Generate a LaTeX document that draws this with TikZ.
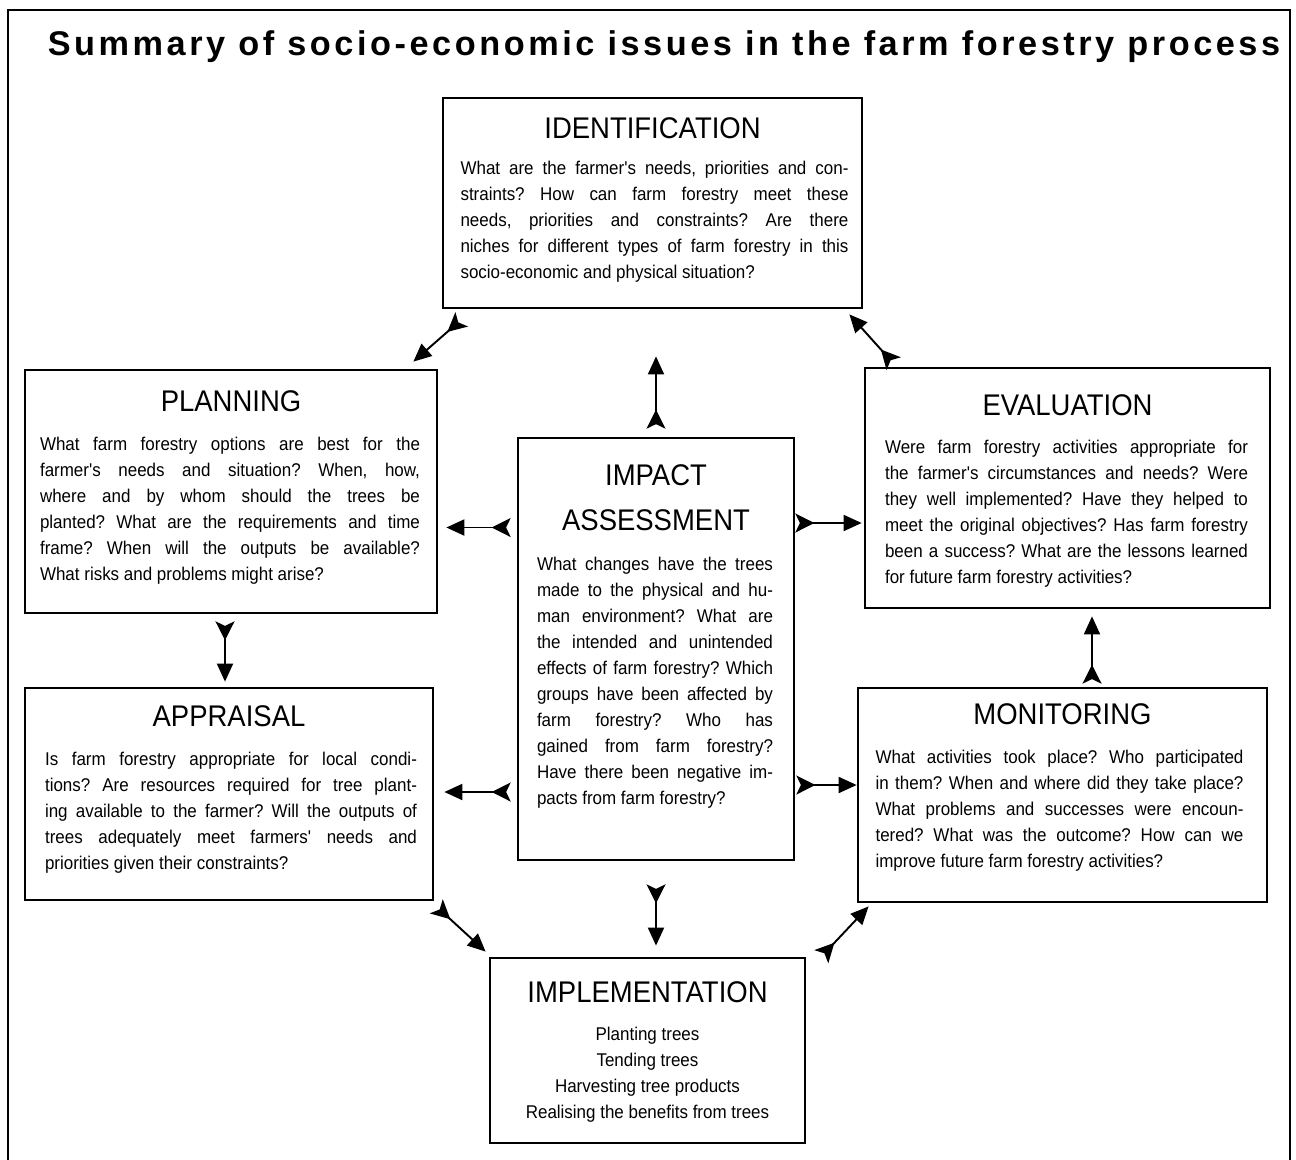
\documentclass[tikz,border=0pt]{standalone}
\usepackage{fontspec}
\setmainfont{Liberation Sans}
\newfontfamily\bodyfont[FakeStretch=0.92]{Liberation Sans}
\newfontfamily\headfont[FakeStretch=0.92]{Liberation Sans}
\newfontfamily\titlefont[LetterSpace=10.4]{Liberation Sans}
\usetikzlibrary{arrows.meta,calc}
\frenchspacing
\tikzset{
  stagebox/.style={rectangle,draw=black,line width=1.6pt,inner sep=0pt},
  stagehd/.style={font=\headfont\fontsize{17}{20}\selectfont,inner sep=0pt,align=center},
  stagetxt/.style={font=\bodyfont\fontsize{10.5}{14.8}\selectfont,align=justify,
    inner sep=0pt,anchor=north},
  titletxt/.style={font=\titlefont\bfseries\fontsize{19.5}{22}\selectfont,inner sep=0pt},
  flow/.style={{Stealth[reversed,length=0.38cm,width=0.38cm,inset=0.09cm]}-{Triangle[length=0.36cm,width=0.32cm]},
    line width=1.1pt},
}
\begin{document}
\begin{tikzpicture}[x=0.02cm,y=-0.02cm]
  \useasboundingbox (0,0) rectangle (1296,1160);
  \draw[line width=0.9pt] (8,1160) |- (1290,10) -- (1290,1160);
  \node[titletxt] (title) at (664,47) {Summary of socio-economic issues in the farm forestry process};

  % stage boxes
  \node[stagebox,minimum width=8.38cm,minimum height=4.2cm]  (ident)   at (652.5,203)  {};
  \node[stagebox,minimum width=8.24cm,minimum height=4.86cm] (plan)    at (231,491.5)  {};
  \node[stagebox,minimum width=8.1cm,minimum height=4.8cm]   (eval)    at (1067.5,488) {};
  \node[stagebox,minimum width=5.52cm,minimum height=8.44cm] (impact)  at (656,649)    {};
  \node[stagebox,minimum width=8.16cm,minimum height=4.24cm] (apprais) at (229,794)    {};
  \node[stagebox,minimum width=8.18cm,minimum height=4.28cm] (monit)   at (1062.5,795) {};
  \node[stagebox,minimum width=6.3cm,minimum height=3.7cm]   (impl)    at (647.5,1050.5) {};

  % headings
  \node[stagehd] (identH)   at ($(ident.north)+(0,32)$)   {IDENTIFICATION};
  \node[stagehd] (planH)    at ($(plan.north)+(0,33)$)    {PLANNING};
  \node[stagehd] (evalH)    at ($(eval.north)+(0,39)$)    {EVALUATION};
  \node[stagehd,font=\headfont\fontsize{17}{26}\selectfont] (impactH) at ($(impact.north)+(0,61)$) {IMPACT\\ASSESSMENT};
  \node[stagehd] (appraisH) at ($(apprais.north)+(0,30)$) {APPRAISAL};
  \node[stagehd] (monitH)   at ($(monit.north)+(0,28)$)   {MONITORING};
  \node[stagehd] (implH)    at ($(impl.north)+(0,36)$)    {IMPLEMENTATION};

  % questions
  \node[stagetxt,text width=7.76cm] (identT) at ($(ident.north)+(2,64)$) {What are the farmer's needs, priorities and con-\linebreak
    straints? How can farm forestry meet these\linebreak
    needs, priorities and constraints? Are there\linebreak
    niches for different types of farm forestry in this\linebreak
    socio-economic and physical situation?};
  \node[stagetxt,text width=7.6cm] (planT) at ($(plan.north)+(-1,68)$) {What farm forestry options are best for the\linebreak
    farmer's needs and situation? When, how,\linebreak
    where and by whom should the trees be\linebreak
    planted? What are the requirements and time\linebreak
    frame? When will the outputs be available?\linebreak
    What risks and problems might arise?};
  \node[stagetxt,text width=7.26cm] (evalT) at ($(eval.north)+(-1,73)$) {Were farm forestry activities appropriate for\linebreak
    the farmer's circumstances and needs? Were\linebreak
    they well implemented? Have they helped to\linebreak
    meet the original objectives? Has farm forestry\linebreak
    been a success? What are the lessons learned\linebreak
    for future farm forestry activities?};
  \node[stagetxt,text width=4.72cm] (impactT) at ($(impact.north)+(-1,120)$) {What changes have the trees\linebreak
    made to the physical and hu-\linebreak
    man environment? What are\linebreak
    the intended and unintended\linebreak
    effects of farm forestry? Which\linebreak
    groups have been affected by\linebreak
    farm forestry? Who has\linebreak
    gained from farm forestry?\linebreak
    Have there been negative im-\linebreak
    pacts from farm forestry?};
  \node[stagetxt,text width=7.44cm] (appraisT) at ($(apprais.north)+(2,65)$) {Is farm forestry appropriate for local condi-\linebreak
    tions? Are resources required for tree plant-\linebreak
    ing available to the farmer? Will the outputs of\linebreak
    trees adequately meet farmers' needs and\linebreak
    priorities given their constraints?};
  \node[stagetxt,text width=7.36cm] (monitT) at ($(monit.north)+(-3,63)$) {What activities took place? Who participated\linebreak
    in them? When and where did they take place?\linebreak
    What problems and successes were encoun-\linebreak
    tered? What was the outcome? How can we\linebreak
    improve future farm forestry activities?};
  \node[stagetxt,align=center] (implT) at ($(impl.north)+(0,70)$) {Planting trees\\Tending trees\\Harvesting tree products\\Realising the benefits from trees};

  % connectors
  \draw[flow] ($(ident.south west)+(20,10)$) -- ($(plan.north east)+(-25,-7)$);
  \draw[flow] ($(eval.north west)+(30,-3)$) -- ($(ident.south east)+(-14,5)$);
  \draw[flow] ($(impact.north)+(0,-8)$) -- ($(impact.north |- ident.south)+(0,47)$);
  \draw[flow] ($(impact.west |- plan.east)+(-6,36)$) -- ($(plan.east)+(8,36)$);
  \draw[flow] ($(impact.east |- eval.west)+(0,35)$) -- ($(eval.west)+(-2,35)$);
  \draw[flow] ($(plan.south)+(-6,7)$) -- ($(plan.south |- apprais.north)+(-6,-5)$);
  \draw[flow] ($(monit.north)+(29.5,-3)$) -- ($(monit.north |- eval.south)+(29.5,7)$);
  \draw[flow] ($(impact.west |- apprais.east)+(-6,-2)$) -- ($(apprais.east)+(10,-2)$);
  \draw[flow] ($(impact.east |- monit.west)+(1,-10)$) -- ($(monit.west)+(0,-10)$);
  \draw[flow] ($(apprais.south east)+(2,5)$) -- ($(impl.north west)+(-3,-5)$);
  \draw[flow] ($(impl.north east)+(15,0)$) -- ($(monit.south west)+(12,3)$);
  \draw[flow] ($(impact.south)+(0,23)$) -- ($(impact.south |- impl.north)+(0,-11)$);
\end{tikzpicture}
\end{document}
